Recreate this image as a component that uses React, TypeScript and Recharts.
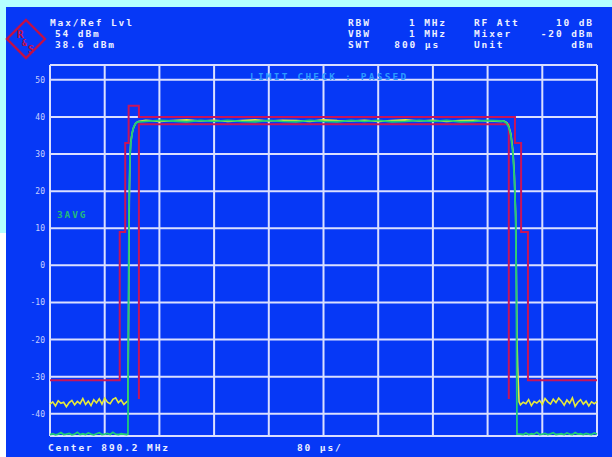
import React from 'react';
import { LineChart, Line, XAxis, YAxis, CartesianGrid } from 'recharts';

// sweep: 800 µs span, 80 µs/div; level axis from -46 to the 54 dBm ref level
const gridTimes = [0, 80, 160, 240, 320, 400, 480, 560, 640, 720, 800];
const gridLevels = [-46, -40, -30, -20, -10, 0, 10, 20, 30, 40, 50, 54];
const levelLabels = [-40, -30, -20, -10, 0, 10, 20, 30, 40, 50];

// limit lines (time µs / level dBm)
const upperLimitT = [0, 102, 102, 110, 110, 115, 115, 130, 130, 680, 680, 689, 689, 699, 699, 800];
const upperLimitDb = [-31, -31, 9, 9, 33, 33, 43, 43, 40, 40, 33, 33, 9, 9, -31, -31];
const lowerLimitT = [130, 130, 671, 671];
const lowerLimitDb = [-36, 38, 38, -36];

// noise floor sweep points
const noiseLeftT = [0, 4, 8, 12, 16, 20, 24, 28, 32, 36, 40, 44, 48, 52, 56, 60, 64, 68, 72, 76, 80, 84, 88, 92, 96, 100, 104, 108, 112];
const noiseRightT = [688, 692, 696, 700, 704, 708, 712, 716, 720, 724, 728, 732, 736, 740, 744, 748, 752, 756, 760, 764, 768, 772, 776, 780, 784, 788, 792, 796, 800];
const plateauT = [140, 160, 180, 200, 220, 240, 260, 280, 300, 320, 340, 360, 380, 400, 420, 440, 460, 480, 500, 520, 540, 560, 580, 600, 620, 640, 660];

// trace 1: max hold (yellow)
const maxLeftDb = [-37.4, -36.8, -37.9, -36.5, -37.2, -36.9, -38.1, -37.0, -36.4, -37.6, -36.7, -37.3, -35.9, -37.5, -36.6, -37.8, -36.2, -37.1, -36.0, -37.4, -35.8, -36.9, -37.3, -36.1, -35.7, -37.0, -36.3, -37.5, -36.8];
const maxRiseT = [114, 115, 116, 117, 118, 120, 122, 125, 129];
const maxRiseDb = [-36.5, -12, 18, 29, 33, 35.5, 37, 38.2, 38.8];
const maxPlateauDb = [39.1, 38.8, 39.0, 39.2, 38.9, 39.1, 38.8, 39.0, 39.2, 38.9, 39.1, 39.0, 38.8, 39.2, 39.0, 38.9, 39.1, 38.8, 39.0, 39.2, 38.9, 39.1, 38.8, 39.0, 39.1, 38.9, 38.8];
const maxFallT = [664, 668, 671, 674, 677, 679, 681, 682, 683, 684, 686];
const maxFallDb = [38.9, 38.5, 37.5, 35.5, 31, 25, 14, 0, -20, -27.5, -36.8];
const maxRightDb = [-37.6, -36.9, -37.3, -36.2, -37.8, -36.7, -37.1, -36.4, -37.5, -35.9, -36.8, -37.4, -36.1, -37.0, -35.8, -36.6, -37.7, -36.3, -37.2, -35.7, -38.0, -36.9, -36.2, -37.4, -36.6, -37.9, -36.8, -37.3, -36.7];

// trace 2: 3x average (green)
const avgLeftDb = [-45.6, -45.4, -45.7, -45.5, -45.1, -45.6, -45.5, -45.3, -45.7, -45.5, -45.0, -45.6, -45.4, -45.6, -45.2, -45.5, -45.7, -45.4, -45.1, -45.6, -45.5, -45.3, -45.6, -45.0, -45.5, -45.6, -45.4, -45.5, -45.6];
const avgRiseT = [114, 114.5, 115.5, 117, 118.5, 120.5, 123, 127];
const avgRiseDb = [-45.5, -20, 15, 29.5, 33.5, 36, 37.6, 38.6];
const avgPlateauDb = [38.8, 39.1, 38.9, 38.7, 39.1, 38.8, 39.1, 38.8, 38.7, 39.1, 38.8, 38.7, 39.1, 38.8, 38.7, 39.1, 38.8, 39.1, 38.7, 38.8, 39.1, 38.8, 39.1, 38.7, 38.8, 39.1, 38.9];
const avgFallT = [664, 668, 671, 674, 677, 679, 681, 682, 683];
const avgFallDb = [38.8, 38.3, 37.2, 35, 30, 24, 13, -5, -45.5];
const avgRightDb = [-45.5, -45.6, -45.2, -45.6, -45.4, -45.5, -45.0, -45.6, -45.5, -45.3, -45.6, -45.4, -45.1, -45.6, -45.5, -45.4, -45.6, -45.2, -45.5, -45.6, -45.1, -45.5, -45.4, -45.6, -45.3, -45.5, -45.6, -45.2, -45.5];

const toPoints = (t: number[], db: number[]) => t.map((time, i) => ({ t: time, db: db[i] }));

const upperLimit = toPoints(upperLimitT, upperLimitDb);
const lowerLimit = toPoints(lowerLimitT, lowerLimitDb);
const maxTrace = [
  ...toPoints(noiseLeftT, maxLeftDb),
  ...toPoints(maxRiseT, maxRiseDb),
  ...toPoints(plateauT, maxPlateauDb),
  ...toPoints(maxFallT, maxFallDb),
  ...toPoints(noiseRightT, maxRightDb),
];
const avgTrace = [
  ...toPoints(noiseLeftT, avgLeftDb),
  ...toPoints(avgRiseT, avgRiseDb),
  ...toPoints(plateauT, avgPlateauDb),
  ...toPoints(avgFallT, avgFallDb),
  ...toPoints(noiseRightT, avgRightDb),
];

const MONO = '"DejaVu Sans Mono", monospace';
const GRID = '#dadfff';
const LIMIT = '#c8145a';

// only the 10 dB divisions get a label; -46 / 54 are the frame edges
const LevelTick = ({ y, payload }: any) =>
  levelLabels.includes(payload.value) ? (
    <text x={45} y={y + 3} textAnchor="end" fontSize={8} fontFamily={MONO} fill="#c8d0ff">
      {payload.value}
    </text>
  ) : (
    <g />
  );

// time ticks carry no labels, they only feed the vertical grid
const NoTick = () => <g />;

const hdr = { fontFamily: MONO, fontSize: 9.5, fontWeight: 700, fill: '#eef0ff', letterSpacing: 1.9 };

const Overlay = () => (
  <svg width={612} height={457} style={{ position: 'absolute', left: 0, top: 0, pointerEvents: 'none' }}>
    {/* R&S logo */}
    <polygon points="26,20 45,39 26,58 7,39" stroke="#c01048" fill="none" strokeWidth={2.4} />
    <text x={17} y={38} fontSize={11} fontFamily={MONO} fontWeight={700} fill="#c01048">R</text>
    <text x={22} y={46} fontSize={8} fontFamily={MONO} fontWeight={700} fill="#c01048">&amp;</text>
    <text x={28} y={53} fontSize={10} fontFamily={MONO} fontWeight={700} fill="#c01048">S</text>

    <text x={50} y={26} {...hdr}>Max/Ref Lvl</text>
    <text x={55} y={37} {...hdr}>54 dBm</text>
    <text x={55} y={48} {...hdr}>38.6 dBm</text>

    <text x={348} y={26} {...hdr}>RBW</text>
    <text x={348} y={37} {...hdr}>VBW</text>
    <text x={348} y={48} {...hdr}>SWT</text>
    <text x={447} y={26} textAnchor="end" {...hdr}>1 MHz</text>
    <text x={447} y={37} textAnchor="end" {...hdr}>1 MHz</text>
    <text x={440} y={48} textAnchor="end" {...hdr}>800 µs</text>
    <text x={474} y={26} {...hdr}>RF Att</text>
    <text x={474} y={37} {...hdr}>Mixer</text>
    <text x={474} y={48} {...hdr}>Unit</text>
    <text x={594} y={26} textAnchor="end" {...hdr}>10 dB</text>
    <text x={594} y={37} textAnchor="end" {...hdr}>-20 dBm</text>
    <text x={594} y={48} textAnchor="end" {...hdr}>dBm</text>

    <text x={250} y={80} {...hdr} fill="#2c9cff" letterSpacing={2.2}>LIMIT CHECK : PASSED</text>
    <text x={57} y={218} {...hdr} fill="#22b87c">3AVG</text>

    <text x={48} y={451} {...hdr}>Center 890.2 MHz</text>
    <text x={297} y={451} {...hdr}>80 µs/</text>
  </svg>
);

export default function App() {
  return (
    <div style={{ position: 'absolute', left: 0, top: 0, width: 612, height: 457, background: '#ffffff', overflow: 'hidden' }}>
      <div style={{ position: 'absolute', left: 0, top: 0, width: 612, height: 7, background: '#b4ffff' }} />
      <div style={{ position: 'absolute', left: 0, top: 0, width: 6, height: 233, background: '#b4ffff' }} />
      <div style={{ position: 'absolute', left: 6, top: 7, width: 606, height: 450, background: '#0638f6' }} />
      <div style={{ position: 'absolute', left: 0, top: 0 }}>
        <LineChart width={612} height={457} margin={{ top: 65, right: 15, bottom: 21, left: 10 }}>
          <XAxis
            type="number"
            dataKey="t"
            domain={[0, 800]}
            ticks={gridTimes}
            interval={0}
            height={0}
            tick={<NoTick />}
            axisLine={false}
            tickLine={false}
            allowDuplicatedCategory={false}
          />
          <YAxis
            type="number"
            domain={[-46, 54]}
            ticks={gridLevels}
            width={40}
            axisLine={false}
            tickLine={false}
            tick={<LevelTick />}
            interval={0}
          />
          <CartesianGrid stroke={GRID} strokeWidth={2} />
          <Line data={upperLimit} dataKey="db" type="linear" stroke={LIMIT} strokeWidth={2} dot={false} isAnimationActive={false} />
          <Line data={lowerLimit} dataKey="db" type="linear" stroke={LIMIT} strokeWidth={2} dot={false} isAnimationActive={false} />
          <Line data={maxTrace} dataKey="db" type="linear" stroke="#e6ea3c" strokeWidth={1.6} dot={false} isAnimationActive={false} />
          <Line data={avgTrace} dataKey="db" type="linear" stroke="#1fcc78" strokeWidth={1.8} dot={false} isAnimationActive={false} />
        </LineChart>
      </div>
      <Overlay />
    </div>
  );
}
